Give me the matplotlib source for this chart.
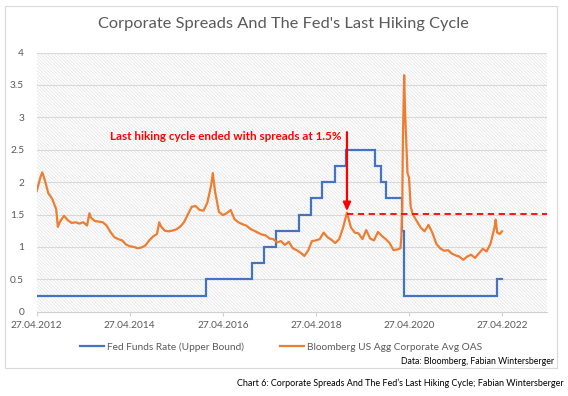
import matplotlib
matplotlib.use("Agg")
import matplotlib.pyplot as plt
from matplotlib.patches import Rectangle
import pandas as pd

# ---------------- data ----------------
fed_dates = ["2012-04-27", "2015-12-17", "2016-12-15", "2017-03-16", "2017-06-15",
             "2017-12-14", "2018-03-22", "2018-06-14", "2018-09-27", "2018-12-20",
             "2019-08-01", "2019-09-19", "2019-10-31", "2020-03-04", "2020-03-16",
             "2022-03-17", "2022-04-27"]
fed_rate = [0.25, 0.50, 0.75, 1.00, 1.25, 1.50, 1.75, 2.00, 2.25, 2.50,
            2.25, 2.00, 1.75, 1.25, 0.25, 0.50, 0.50]

oas_dates = (
    ["2012-04-27", "2012-05-27", "2012-06-10", "2012-06-27", "2012-07-27", "2012-08-27",
     "2012-09-27", "2012-10-10", "2012-10-27", "2012-11-27", "2012-12-27"] +
    ["2013-01-27", "2013-02-27", "2013-03-27", "2013-04-27", "2013-05-27", "2013-06-15",
     "2013-06-27", "2013-07-27", "2013-08-27", "2013-09-27", "2013-10-27", "2013-11-27",
     "2013-12-27"] +
    ["2014-01-27", "2014-02-27", "2014-03-27", "2014-04-27", "2014-05-27", "2014-06-27",
     "2014-07-27", "2014-08-27", "2014-09-27", "2014-10-27", "2014-11-27", "2014-12-15",
     "2014-12-27"] +
    ["2015-01-27", "2015-02-27", "2015-03-27", "2015-04-27", "2015-05-27", "2015-06-27",
     "2015-07-27", "2015-08-27", "2015-09-27", "2015-10-27", "2015-11-27", "2015-12-27"] +
    ["2016-01-27", "2016-02-08", "2016-02-27", "2016-03-27", "2016-04-27", "2016-05-27",
     "2016-06-27", "2016-07-27", "2016-08-27", "2016-09-27", "2016-10-27", "2016-11-27",
     "2016-12-27"] +
    ["2017-01-27", "2017-02-27", "2017-03-27", "2017-04-27", "2017-05-27", "2017-06-27",
     "2017-07-27", "2017-08-27", "2017-09-27", "2017-10-27", "2017-11-27", "2017-12-27"] +
    ["2018-01-27", "2018-02-27", "2018-03-27", "2018-04-27", "2018-05-27", "2018-06-27",
     "2018-07-27", "2018-08-27", "2018-09-27", "2018-10-27", "2018-11-27", "2018-12-27"] +
    ["2019-01-27", "2019-02-27", "2019-03-27", "2019-04-27", "2019-05-27", "2019-06-27",
     "2019-07-27", "2019-08-27", "2019-09-27", "2019-10-27", "2019-11-27", "2019-12-27"] +
    ["2020-01-27", "2020-02-20", "2020-02-27", "2020-03-05", "2020-03-10", "2020-03-20",
     "2020-03-27", "2020-04-15", "2020-04-27", "2020-05-10", "2020-05-27", "2020-06-27",
     "2020-07-27", "2020-08-27", "2020-09-27", "2020-10-27", "2020-11-27", "2020-12-27"] +
    ["2021-01-27", "2021-02-27", "2021-03-27", "2021-04-27", "2021-05-27", "2021-06-27",
     "2021-07-27", "2021-08-27", "2021-09-27", "2021-10-27", "2021-11-27", "2021-12-27"] +
    ["2022-01-27", "2022-02-27", "2022-03-08", "2022-03-20", "2022-04-10", "2022-04-27"]
)
oas_values = (
    [1.86, 2.08, 2.15, 2.05, 1.83, 1.74, 1.58, 1.31, 1.39, 1.48, 1.41] +
    [1.37, 1.38, 1.36, 1.38, 1.33, 1.52, 1.45, 1.40, 1.39, 1.38, 1.33, 1.23, 1.15] +
    [1.12, 1.10, 1.04, 1.01, 1.00, 0.98, 0.99, 1.02, 1.10, 1.16, 1.20, 1.38, 1.32] +
    [1.25, 1.24, 1.25, 1.27, 1.31, 1.38, 1.50, 1.62, 1.63, 1.57, 1.56, 1.68] +
    [1.96, 2.14, 1.84, 1.54, 1.49, 1.52, 1.57, 1.43, 1.38, 1.35, 1.33, 1.28, 1.25] +
    [1.22, 1.19, 1.18, 1.13, 1.12, 1.07, 1.09, 1.03, 1.08, 0.98, 0.95, 0.91] +
    [0.86, 0.95, 1.09, 1.10, 1.12, 1.22, 1.15, 1.11, 1.06, 1.12, 1.30, 1.53] +
    [1.30, 1.22, 1.21, 1.12, 1.26, 1.13, 1.10, 1.23, 1.17, 1.12, 1.06, 0.95] +
    [0.96, 0.98, 1.15, 1.62, 2.65, 3.65, 3.10, 2.14, 2.07, 1.62, 1.50, 1.40,
     1.30, 1.24, 1.34, 1.22, 1.05, 0.98] +
    [0.94, 0.95, 0.90, 0.87, 0.85, 0.80, 0.85, 0.88, 0.83, 0.90, 0.97, 0.93] +
    [1.05, 1.30, 1.42, 1.22, 1.20, 1.24]
)

tick_dates = ["2012-04-27", "2014-04-27", "2016-04-27", "2018-04-27", "2020-04-27", "2022-04-27"]
tick_labels = ["27.04.2012", "27.04.2014", "27.04.2016", "27.04.2018", "27.04.2020", "27.04.2022"]
y_ticks = [0, 0.5, 1, 1.5, 2, 2.5, 3, 3.5, 4]
y_labels = ["0", "0.5", "1", "1.5", "2", "2.5", "3", "3.5", "4"]

x_min, x_max = "2012-04-27", "2023-04-15"
peak_date = "2018-12-27"
peak_level = 1.515
arrow_top = 2.77
arrow_tip = 1.55
annot_y = 2.70

title = "Corporate Spreads And The Fed's Last Hiking Cycle"
annot = "Last hiking cycle ended with spreads at 1.5%"
legend_labels = ["Fed Funds Rate (Upper Bound)", "Bloomberg US Agg Corporate Avg OAS"]
source = "Data: Bloomberg, Fabian Wintersberger"
caption = "Chart 6: Corporate Spreads And The Fed\u2019s Last Hiking Cycle; Fabian Wintersberger"

# ---------------- style ----------------
plt.rcParams['font.family'] = ['Lato', 'DejaVu Sans']
plt.rcParams['hatch.linewidth'] = 0.5
plt.rcParams['hatch.color'] = '#e0e0e0'

BLUE = '#4472C4'
ORANGE = '#ED7D31'
GRAY = '#595959'
RED = '#FF0000'

W, H = 568, 396
fig = plt.figure(figsize=(W / 100, H / 100), dpi=100)

# chart frame
fig.patches.append(Rectangle((5 / W, 1 - 368 / H), (557 - 5) / W, (368 - 6) / H,
                             transform=fig.transFigure, facecolor='white',
                             edgecolor='#d9d9d9', linewidth=0.8, zorder=-10))

left, right, top, bottom = 36.7, 547, 52.5, 311.7
ax = fig.add_axes([left / W, 1 - bottom / H, (right - left) / W, (bottom - top) / H])
ax.set_zorder(1)
ax.set_facecolor('none')

# hatched plot area
ax.add_patch(Rectangle((0, 0), 1, 1, transform=ax.transAxes, facecolor='white',
                       hatch='\\' * 10, edgecolor='#e0e0e0', linewidth=0, zorder=0))

fd = pd.to_datetime(fed_dates)
od = pd.to_datetime(oas_dates)

for yv in y_ticks[1:]:
    ax.axhline(yv, color='#d9d9d9', linewidth=0.8, zorder=1)

ax.plot(fd, fed_rate, drawstyle='steps-post', color=BLUE, linewidth=1.6, zorder=3,
        label=legend_labels[0], solid_joinstyle='miter')
ax.plot(od, oas_values, color=ORANGE, linewidth=1.6, zorder=4, label=legend_labels[1],
        solid_joinstyle='round')

pk = pd.Timestamp(peak_date)
ax.plot([pk, pd.Timestamp(x_max)], [peak_level, peak_level], color=RED,
        linewidth=1.3, linestyle=(0, (3.5, 2.5)), zorder=5)
ax.annotate('', xy=(pk, arrow_tip), xytext=(pk, arrow_top),
            arrowprops=dict(arrowstyle='-|>,head_length=0.5,head_width=0.22',
                            color=RED, linewidth=1.6, shrinkA=0, shrinkB=0), zorder=6)
ax.annotate(annot, xy=(pk, annot_y), xytext=(-4, 0), textcoords='offset points',
            color=RED, fontsize=8.4, fontweight='bold', ha='right', va='center', zorder=6)

ax.set_xlim(pd.Timestamp(x_min), pd.Timestamp(x_max))
ax.set_ylim(0, 4)
ax.set_yticks(y_ticks)
ax.set_yticklabels(y_labels)
ax.set_xticks(pd.to_datetime(tick_dates))
ax.set_xticklabels(tick_labels)

for s in ['top', 'right', 'left']:
    ax.spines[s].set_visible(False)
ax.spines['bottom'].set_color('#d0d0d0')
ax.spines['bottom'].set_linewidth(0.8)
ax.spines['bottom'].set_zorder(2)
ax.tick_params(axis='y', length=0, pad=9, labelsize=7.3, labelcolor=GRAY)
ax.tick_params(axis='x', length=3, width=0.8, color='#d0d0d0', pad=4,
               labelsize=7.3, labelcolor=GRAY)

# title
fig.text(283.5 / W, 1 - 24 / H, title, ha='center', va='center', fontsize=11.8, color=GRAY)

# legend
leg = fig.legend(loc='center', bbox_to_anchor=(281 / W, 1 - 347 / H), ncol=2,
                 frameon=False, fontsize=7.3, handlelength=2.4, columnspacing=3.5,
                 handletextpad=0.3, labelcolor=GRAY)
for line in leg.get_lines():
    line.set_linewidth(1.6)

fig.text(554 / W, 1 - 361 / H, source, ha='right', va='center', fontsize=6.3, color='#000000')
fig.text(564 / W, 1 - 383 / H, caption, ha='right', va='center', fontsize=6.5, color='#000000')

fig.savefig('out.png', dpi=100)
